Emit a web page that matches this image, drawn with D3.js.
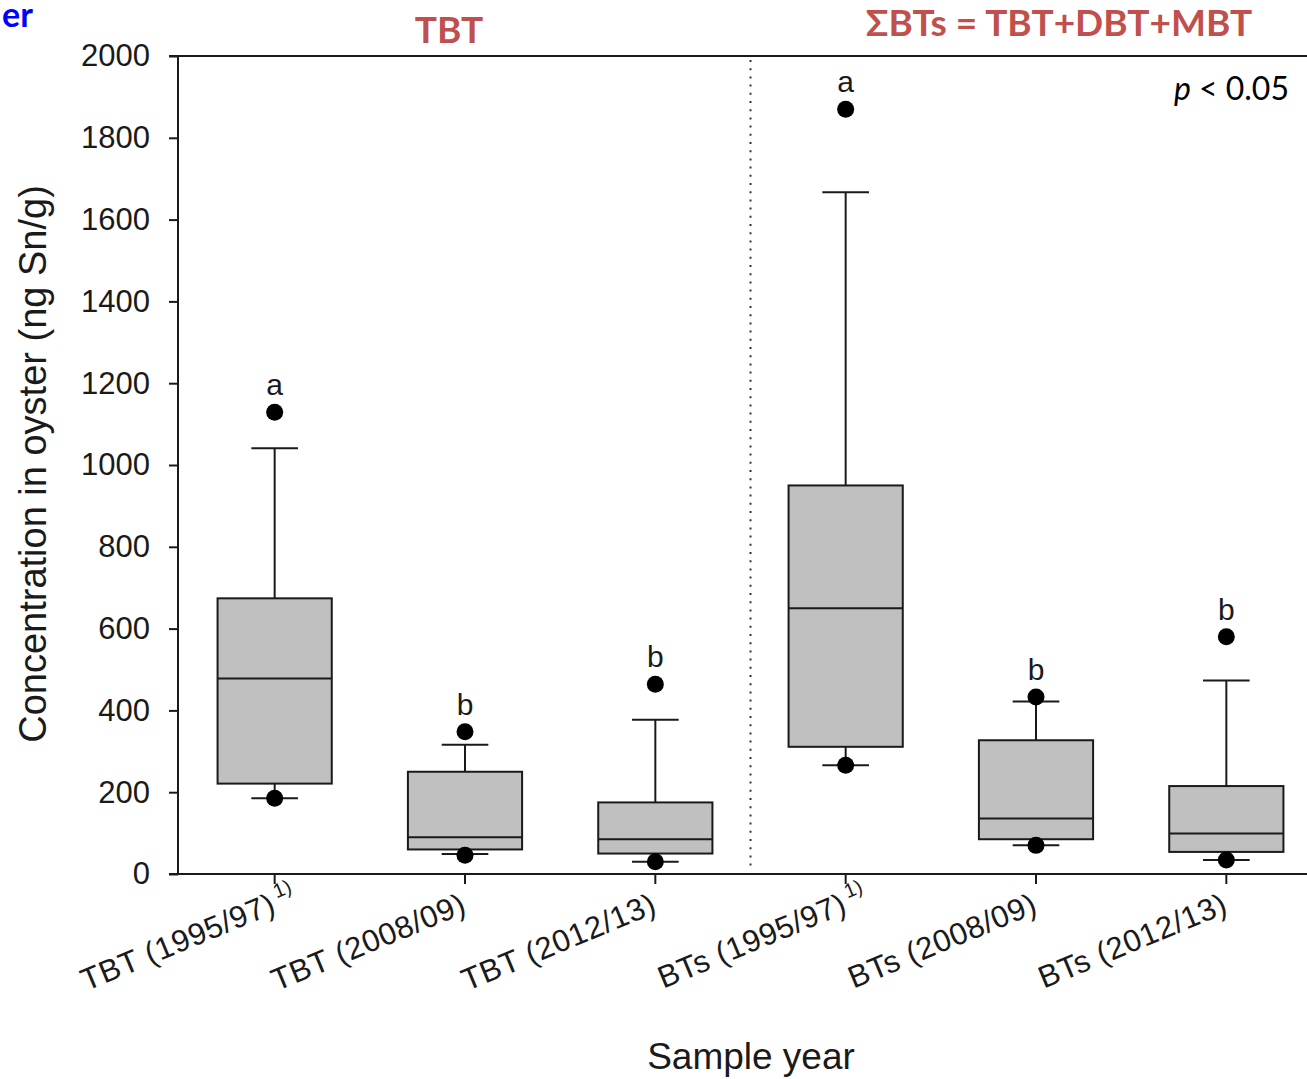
<!DOCTYPE html>
<html>
<head>
<meta charset="utf-8">
<script src="https://cdn.jsdelivr.net/npm/d3@7"></script>
<style>
  html, body { margin: 0; padding: 0; background: #fff; }
  svg { display: block; }
</style>
</head>
<body>
<svg id="chart" width="1307" height="1079"></svg>
<script>
// Organotin concentrations in oysters, by compound group and sampling period
const categories = ["TBT (1995/97)", "TBT (2008/09)", "TBT (2012/13)", "BTs (1995/97)", "BTs (2008/09)", "BTs (2012/13)"];
const footnotes = ["1)", "", "", "1)", "", ""];
const q1Values = [221, 60, 50, 311, 85, 54];
const medianValues = [478, 90, 85, 650, 136, 99];
const q3Values = [674, 250, 175, 950, 327, 215];
const whiskerLow = [185, 49, 30, 266, 70, 34];
const whiskerHigh = [1041, 316, 377, 1667, 422, 473];
const pointLow = [185, 46, 30, 266, 70, 34];
const pointHigh = [1129, 348, 464, 1870, 433, 580];
const groupLetters = ["a", "b", "b", "a", "b", "b"];
const yTicks = [0, 200, 400, 600, 800, 1000, 1200, 1400, 1600, 1800, 2000];

const rows = categories.map((c, i) => ({
  cat: c, note: footnotes[i], q1: q1Values[i], med: medianValues[i], q3: q3Values[i],
  lo: whiskerLow[i], hi: whiskerHigh[i], pLo: pointLow[i], pHi: pointHigh[i], letter: groupLetters[i]
}));

const svg = d3.select("#chart");
const W = 1307;
const axisX = 178;
const baseFont = "Liberation Sans, Arial, sans-serif";
const calFont = "Lato, 'Open Sans', sans-serif";
const ink = "#1a1a1a";

const y = d3.scaleLinear().domain([0, 2000]).range([874, 56]);
const x = d3.scaleBand().domain(categories).range([179.5, 1321.5]).padding(0);
const cx = c => x(c) + x.bandwidth() / 2;
const boxW = x.bandwidth() * 0.6;
const capW = x.bandwidth() * 0.245;

// Y axis
const yAxis = svg.append("g")
  .attr("transform", `translate(${axisX},0)`)
  .call(d3.axisLeft(y).tickValues(yTicks).tickFormat(d3.format("d"))
    .tickSize(9).tickSizeOuter(0).tickPadding(19));
yAxis.select(".domain").remove();
yAxis.selectAll(".tick line").attr("stroke", ink).attr("stroke-width", 2);
yAxis.selectAll(".tick text")
  .attr("font-family", baseFont).attr("font-size", 31).attr("fill", ink);

svg.append("line")
  .attr("x1", axisX).attr("x2", axisX).attr("y1", y(0)).attr("y2", y(2000))
  .attr("stroke", ink).attr("stroke-width", 2);

// X axis
const xAxis = svg.append("g")
  .attr("transform", `translate(0,${y(0)})`)
  .call(d3.axisBottom(x).tickSize(10).tickSizeOuter(0).tickFormat(""));
xAxis.select(".domain").remove();
xAxis.selectAll(".tick line").attr("stroke", ink).attr("stroke-width", 2);

// frame lines: bottom axis and top border
svg.append("line")
  .attr("x1", axisX - 9).attr("x2", W).attr("y1", y(0)).attr("y2", y(0))
  .attr("stroke", ink).attr("stroke-width", 2);
svg.append("line")
  .attr("x1", axisX - 9).attr("x2", W).attr("y1", y(2000)).attr("y2", y(2000))
  .attr("stroke", ink).attr("stroke-width", 2);

// dotted divider between the TBT and total-BT groups
const divX = (cx(categories[2]) + cx(categories[3])) / 2;
svg.append("line")
  .attr("x1", divX).attr("x2", divX).attr("y1", y(2000) + 4).attr("y2", y(0) - 4)
  .attr("stroke", "#333").attr("stroke-width", 2).attr("stroke-dasharray", "2,6.2");

// Category labels (rotated)
const labels = svg.append("g");
rows.forEach(d => {
  const g = labels.append("g")
    .attr("transform", `translate(${cx(d.cat) + 3},${y(0) + 38}) rotate(-22.5)`);
  g.append("text")
    .attr("text-anchor", "end")
    .attr("font-family", baseFont).attr("font-size", 31).attr("fill", ink)
    .attr("letter-spacing", 0.6)
    .text(d.cat);
  if (d.note) {
    g.append("text")
      .attr("x", 4).attr("y", -13)
      .attr("font-family", baseFont).attr("font-size", 20).attr("fill", ink)
      .text(d.note);
  }
});

// Boxes
const boxes = svg.append("g").selectAll("g.box").data(rows).join("g").attr("class", "box");

boxes.append("line") // lower whisker
  .attr("x1", d => cx(d.cat)).attr("x2", d => cx(d.cat))
  .attr("y1", d => y(d.q1)).attr("y2", d => y(d.lo))
  .attr("stroke", ink).attr("stroke-width", 2);
boxes.append("line") // upper whisker
  .attr("x1", d => cx(d.cat)).attr("x2", d => cx(d.cat))
  .attr("y1", d => y(d.q3)).attr("y2", d => y(d.hi))
  .attr("stroke", ink).attr("stroke-width", 2);
boxes.append("line") // lower cap
  .attr("x1", d => cx(d.cat) - capW / 2).attr("x2", d => cx(d.cat) + capW / 2)
  .attr("y1", d => y(d.lo)).attr("y2", d => y(d.lo))
  .attr("stroke", ink).attr("stroke-width", 2);
boxes.append("line") // upper cap
  .attr("x1", d => cx(d.cat) - capW / 2).attr("x2", d => cx(d.cat) + capW / 2)
  .attr("y1", d => y(d.hi)).attr("y2", d => y(d.hi))
  .attr("stroke", ink).attr("stroke-width", 2);

boxes.append("rect")
  .attr("x", d => cx(d.cat) - boxW / 2).attr("width", boxW)
  .attr("y", d => y(d.q3)).attr("height", d => y(d.q1) - y(d.q3))
  .attr("fill", "#c0c0c0").attr("stroke", ink).attr("stroke-width", 2);
boxes.append("line") // median
  .attr("x1", d => cx(d.cat) - boxW / 2).attr("x2", d => cx(d.cat) + boxW / 2)
  .attr("y1", d => y(d.med)).attr("y2", d => y(d.med))
  .attr("stroke", ink).attr("stroke-width", 2);

boxes.append("circle")
  .attr("cx", d => cx(d.cat)).attr("cy", d => y(d.pLo)).attr("r", 8.5).attr("fill", "#000");
boxes.append("circle")
  .attr("cx", d => cx(d.cat)).attr("cy", d => y(d.pHi)).attr("r", 8.5).attr("fill", "#000");

boxes.append("text")
  .attr("x", d => cx(d.cat)).attr("y", d => y(d.pHi) - 17)
  .attr("text-anchor", "middle")
  .attr("font-family", baseFont).attr("font-size", 30).attr("fill", ink)
  .text(d => d.letter);

// Axis titles
svg.append("text")
  .attr("transform", "translate(46,464) rotate(-90)")
  .attr("text-anchor", "middle")
  .attr("font-family", baseFont).attr("font-size", 38).attr("fill", ink)
  .text("Concentration in oyster (ng Sn/g)");
svg.append("text")
  .attr("x", 751).attr("y", 1069)
  .attr("text-anchor", "middle")
  .attr("font-family", baseFont).attr("font-size", 37).attr("fill", ink)
  .text("Sample year");

// Panel headings
const red = "#c0504d";
svg.append("text")
  .attr("x", 449).attr("y", 43).attr("text-anchor", "middle")
  .attr("font-family", calFont).attr("font-weight", 700).attr("font-size", 37).attr("fill", red)
  .text("TBT");
svg.append("text")
  .attr("x", 1059).attr("y", 36).attr("text-anchor", "middle")
  .attr("font-family", calFont).attr("font-weight", 700).attr("font-size", 37).attr("fill", red)
  .text("ΣBTs = TBT+DBT+MBT");

const pText = svg.append("text")
  .attr("x", 1289).attr("y", 100).attr("text-anchor", "end")
  .attr("font-family", calFont).attr("font-size", 32).attr("fill", "#000");
pText.append("tspan").attr("font-style", "italic").text("p");
pText.append("tspan").text(" < 0.05");

// heading fragment at top-left corner
svg.append("text")
  .attr("x", 2).attr("y", 27).attr("text-anchor", "start")
  .attr("font-family", calFont).attr("font-weight", 700).attr("font-size", 34).attr("fill", "#0000ff")
  .text("er");
</script>
</body>
</html>
